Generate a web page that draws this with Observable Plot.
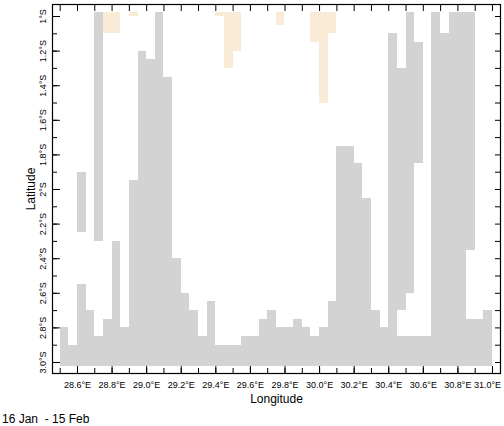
<!DOCTYPE html>
<html><head><meta charset="utf-8">
<script src="https://cdn.jsdelivr.net/npm/d3@7"></script>
<script src="https://cdn.jsdelivr.net/npm/@observablehq/plot@0.6"></script>
<style>
body{margin:0;background:#fff;font-family:"Liberation Sans",Arial,sans-serif;}
#caption{font-size:12px;line-height:14px;padding:4px 0 0 2px;color:#000;white-space:pre;}
</style></head><body>
<div id="chart"></div>
<div id="caption"></div>
<script>
// West edges of the grid columns (°E)
const colLon = [28.50,28.55,28.60,28.65,28.70,28.75,28.80,28.85,28.90,28.95,
                29.00,29.05,29.10,29.15,29.20,29.25,29.30,29.35,29.40,29.45,
                29.50,29.55,29.60,29.65,29.70,29.75,29.80,29.85,29.90,29.95,
                30.00,30.05,30.10,30.15,30.20,30.25,30.30,30.35,30.40,30.45,
                30.50,30.55,30.60,30.65,30.70,30.75,30.80,30.85,30.90,30.95];
const cellWidth = 0.05;
const gridSouth = -3.025;
// northern limit of the land run touching the southern edge, per column
const landTop = [-2.80,-2.90,-2.55,-2.70,-2.85,-2.75,-2.30,-2.80,-1.95,-1.20,
                 -1.25,-0.975,-1.35,-2.40,-2.60,-2.70,-2.85,-2.65,-2.90,-2.90,
                 -2.90,-2.85,-2.85,-2.75,-2.70,-2.80,-2.80,-2.75,-2.80,-2.85,
                 -2.80,-2.65,-1.75,-1.75,-1.85,-2.05,-2.70,-2.80,-1.10,-2.85,
                 -2.85,-2.85,-2.85,-0.975,-1.10,-0.975,-0.975,-2.75,-2.75,-2.70];
// detached land patches
const patchLon   = [28.60, 28.70, 30.45, 30.50, 30.55, 30.85];
const patchNorth = [-1.90, -0.975, -1.30, -0.975, -1.15, -0.975];
const patchSouth = [-2.25, -2.30, -2.70, -2.60, -1.85, -2.35];
// light shaded (peach) cells
const shadeLon   = [28.75, 28.80, 28.90, 29.40, 29.45, 29.50, 29.75, 29.95, 30.00, 30.05];
const shadeNorth = [-0.975,-0.975,-0.975,-0.975,-0.975,-0.975,-0.975,-0.975,-0.975,-0.975];
const shadeSouth = [-1.10, -1.10, -1.00, -1.00, -1.30, -1.20, -1.05, -1.15, -1.50, -1.10];

const xTicks = [28.5,28.6,28.7,28.8,28.9,29.0,29.1,29.2,29.3,29.4,29.5,29.6,29.7,
                29.8,29.9,30.0,30.1,30.2,30.3,30.4,30.5,30.6,30.7,30.8,30.9,31.0];
const xLabelTicks = [28.6,28.8,29.0,29.2,29.4,29.6,29.8,30.0,30.2,30.4,30.6,30.8];
const xLabels = ["28.6°E","28.8°E","29.0°E","29.2°E","29.4°E","29.6°E","29.8°E","30.0°E","30.2°E","30.4°E","30.6°E","30.8°E"];
const xLastTick = [31.0];
const xLastLabel = ["31.0°E"];
const yTicks = [-1.0,-1.1,-1.2,-1.3,-1.4,-1.5,-1.6,-1.7,-1.8,-1.9,-2.0,
                -2.1,-2.2,-2.3,-2.4,-2.5,-2.6,-2.7,-2.8,-2.9,-3.0];
const yLabelTicks = [-1.0,-1.2,-1.4,-1.6,-1.8,-2.0,-2.2,-2.4,-2.6,-2.8,-3.0];
const yLabels = ["1°S","1.2°S","1.4°S","1.6°S","1.8°S","2°S","2.2°S","2.4°S","2.6°S","2.8°S","3.0°S"];
const xTitle = "Longitude";
const yTitle = "Latitude";
const period = "16 Jan  - 15 Feb";

const land = colLon.map((lon, i) => ({w: lon, e: lon + cellWidth, n: landTop[i], s: gridSouth}))
  .concat(patchLon.map((lon, i) => ({w: lon, e: lon + cellWidth, n: patchNorth[i], s: patchSouth[i]})));
const shade = shadeLon.map((lon, i) => ({w: lon, e: lon + cellWidth, n: shadeNorth[i], s: shadeSouth[i]}));

const font = '"Liberation Sans", Arial, sans-serif';
const chart = Plot.plot({
  width: 504, height: 408,
  marginLeft: 52, marginRight: 4, marginTop: 4, marginBottom: 35,
  style: {fontFamily: font, fontSize: "9px", background: "white", color: "black"},
  x: {domain: [28.4555, 31.0463], label: null},
  y: {domain: [-3.0636, -0.9306], label: null},
  marks: [
    Plot.rect(land, {x1: "w", x2: "e", y1: "s", y2: "n", fill: "#d3d3d3", shapeRendering: "crispEdges"}),
    Plot.rect(shade, {x1: "w", x2: "e", y1: "s", y2: "n", fill: "#faebd7", shapeRendering: "crispEdges"}),
    Plot.frame({stroke: "black", strokeWidth: 1.2}),
    Plot.axisX(xTicks, {anchor: "bottom", tickSize: 5, dy: -5, fill: "none", label: null}),
    Plot.axisX(xLabelTicks.concat(xLastTick), {anchor: "bottom", tickSize: 7, dy: -7, fill: "none", label: null}),
    Plot.axisX(xLabelTicks, {anchor: "bottom", tickSize: 0, tickPadding: 8, tickFormat: d => xLabels[xLabelTicks.indexOf(d)], label: null}),
    Plot.axisX(xLastTick, {anchor: "bottom", tickSize: 0, tickPadding: 8, dx: -5, tickFormat: d => xLastLabel[xLastTick.indexOf(d)], label: null}),
    Plot.axisX(xTicks, {anchor: "top", tickSize: 6, dy: 6, fill: "none", label: null}),
    Plot.axisY(yTicks, {anchor: "left", tickSize: 5, dx: 5, fill: "none", label: null}),
    Plot.axisY(yLabelTicks, {anchor: "left", tickSize: 8, dx: 8, fill: "none", label: null}),
    Plot.axisY(yLabelTicks, {anchor: "left", tickSize: 0, tickPadding: 7, tickRotate: -90, tickFormat: d => yLabels[yLabelTicks.indexOf(d)], label: null}),
    Plot.axisY(yTicks, {anchor: "right", tickSize: 6, dx: -6, fill: "none", label: null}),
    Plot.text([xTitle], {frameAnchor: "bottom", lineAnchor: "middle", textAnchor: "middle", dy: 26, fontSize: 12}),
    Plot.text([yTitle], {frameAnchor: "left", lineAnchor: "middle", textAnchor: "middle", dx: -21, rotate: -90, fontSize: 12})
  ]
});
document.getElementById("chart").appendChild(chart);
document.getElementById("caption").textContent = period;
</script>
</body></html>
